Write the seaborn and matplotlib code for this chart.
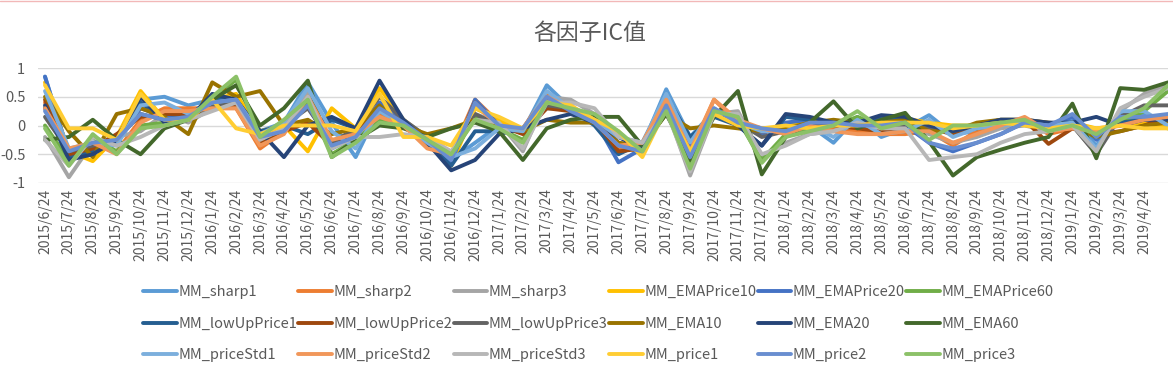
import numpy as np
import matplotlib
matplotlib.use("Agg")
import matplotlib.pyplot as plt
from matplotlib.lines import Line2D
import seaborn as sns
import pandas as pd

# dates on the category axis (last point has no visible label)
dates = ['2015/6/24', '2015/7/24', '2015/8/24', '2015/9/24', '2015/10/24', '2015/11/24',
         '2015/12/24', '2016/1/24', '2016/2/24', '2016/3/24', '2016/4/24', '2016/5/24',
         '2016/6/24', '2016/7/24', '2016/8/24', '2016/9/24', '2016/10/24', '2016/11/24',
         '2016/12/24', '2017/1/24', '2017/2/24', '2017/3/24', '2017/4/24', '2017/5/24',
         '2017/6/24', '2017/7/24', '2017/8/24', '2017/9/24', '2017/10/24', '2017/11/24',
         '2017/12/24', '2018/1/24', '2018/2/24', '2018/3/24', '2018/4/24', '2018/5/24',
         '2018/6/24', '2018/7/24', '2018/8/24', '2018/9/24', '2018/10/24', '2018/11/24',
         '2018/12/24', '2019/1/24', '2019/2/24', '2019/3/24', '2019/4/24', '2019/5/24']

sharp1 = [0.85, -0.5, -0.3, -0.3, 0.45, 0.5, 0.35, 0.45,
          0.5, -0.1, 0.05, 0.75, 0.05, -0.55, 0.3, 0.05,
          -0.3, -0.6, -0.3, 0.0, -0.1, 0.7, 0.3, 0.15,
          -0.2, -0.35, 0.63, -0.2, 0.25, 0.05, -0.1, -0.05,
          0.0, -0.3, 0.15, -0.2, -0.05, 0.18, -0.15, -0.1,
          0.05, 0.1, -0.05, 0.1, -0.35, 0.2, 0.2, -0.05]
sharp2 = [0.4, -0.45, -0.35, -0.45, 0.1, 0.3, 0.3, 0.3,
          0.3, -0.4, -0.1, 0.55, -0.3, -0.1, 0.2, 0.0,
          -0.35, -0.5, 0.45, 0.05, -0.05, 0.55, 0.35, 0.05,
          -0.4, -0.35, 0.5, -0.5, 0.45, 0.05, -0.05, -0.1,
          0.05, -0.05, -0.1, -0.15, -0.15, -0.1, -0.35, -0.1,
          0.05, 0.1, -0.15, -0.05, -0.15, 0.05, 0.05, 0.1]
sharp3 = [-0.2, -0.9, -0.3, -0.2, -0.1, 0.2, 0.05, 0.3,
          0.45, -0.3, 0.0, 0.6, -0.35, -0.1, 0.1, 0.1,
          -0.2, -0.55, 0.2, 0.05, -0.45, 0.5, 0.45, 0.2,
          -0.35, -0.35, 0.3, -0.87, 0.2, 0.25, -0.55, -0.3,
          -0.15, -0.1, 0.1, -0.05, -0.05, -0.15, -0.3, -0.2,
          -0.05, 0.0, -0.1, 0.0, -0.5, 0.25, 0.55, 0.72]
ema_price10 = [0.75, -0.45, -0.62, -0.2, 0.6, 0.1, 0.15, 0.45,
               0.55, -0.1, 0.0, -0.45, 0.3, -0.05, 0.65, 0.1,
               -0.25, -0.7, 0.3, 0.1, -0.1, 0.45, 0.3, 0.1,
               -0.3, -0.5, 0.35, -0.5, 0.25, 0.05, -0.1, 0.0,
               0.05, 0.05, 0.05, 0.1, 0.12, 0.05, 0.0, 0.0,
               0.05, 0.05, -0.05, 0.05, -0.05, 0.0, 0.05, -0.05]
ema_price20 = [0.85, -0.5, -0.35, -0.3, 0.3, 0.15, 0.2, 0.4,
               0.45, -0.2, -0.1, 0.4, -0.4, -0.2, 0.4, 0.05,
               -0.3, -0.65, 0.45, 0.0, -0.1, 0.45, 0.3, 0.1,
               -0.64, -0.4, 0.45, -0.35, 0.25, 0.1, -0.15, 0.05,
               0.1, 0.0, 0.0, 0.05, 0.0, -0.3, -0.45, -0.3,
               -0.15, 0.05, 0.0, 0.15, -0.25, 0.1, 0.15, 0.1]
ema_price60 = [0.0, -0.6, -0.2, -0.45, 0.0, 0.05, 0.1, 0.45,
               0.8, -0.15, 0.05, 0.4, -0.5, -0.25, 0.1, 0.05,
               -0.25, -0.55, 0.15, -0.05, -0.25, 0.4, 0.3, 0.15,
               -0.15, -0.45, 0.3, -0.7, 0.2, 0.1, -0.6, -0.15,
               -0.05, 0.0, 0.15, 0.0, 0.05, -0.1, -0.05, -0.05,
               0.05, 0.1, -0.1, 0.0, -0.2, 0.05, 0.25, 0.6]
low_up1 = [0.3, -0.55, -0.45, -0.2, 0.4, 0.1, 0.15, 0.5,
           0.4, -0.1, 0.0, -0.15, 0.1, -0.05, 0.25, 0.05,
           -0.3, -0.7, -0.1, -0.1, -0.05, 0.3, 0.3, 0.0,
           -0.5, -0.3, 0.5, -0.2, 0.15, 0.0, -0.35, 0.15,
           0.1, 0.05, 0.05, 0.15, 0.1, 0.0, -0.1, 0.0,
           0.1, 0.1, 0.0, 0.05, -0.1, 0.05, 0.1, 0.1]
low_up2 = [0.45, -0.5, -0.4, -0.15, 0.15, 0.2, 0.2, 0.35,
           0.35, -0.3, -0.1, 0.05, -0.35, -0.1, 0.3, 0.05,
           -0.35, -0.55, 0.4, 0.0, -0.15, 0.3, 0.25, 0.1,
           -0.45, -0.4, 0.3, -0.45, 0.2, 0.05, -0.1, -0.1,
           0.0, 0.0, -0.05, -0.1, -0.1, -0.05, -0.15, -0.05,
           0.05, 0.1, -0.32, -0.05, -0.15, -0.1, 0.0, 0.15]
low_up3 = [0.15, -0.45, -0.35, -0.25, 0.2, 0.1, 0.15, 0.35,
           0.4, -0.15, 0.0, 0.3, -0.3, -0.05, 0.5, 0.1,
           -0.2, -0.5, 0.2, 0.0, -0.1, 0.35, 0.3, 0.1,
           -0.3, -0.4, 0.35, -0.45, 0.2, 0.05, -0.2, -0.1,
           0.0, 0.05, 0.0, 0.0, 0.0, -0.05, -0.1, 0.0,
           0.05, 0.05, -0.05, 0.0, -0.5, 0.15, 0.35, 0.35]
ema10 = [0.5, -0.1, -0.55, 0.2, 0.3, 0.15, -0.15, 0.75,
         0.5, 0.6, 0.0, 0.1, -0.15, -0.05, 0.35, 0.0,
         -0.15, -0.05, 0.1, 0.0, -0.1, 0.1, 0.05, 0.05,
         -0.3, -0.35, 0.2, -0.05, 0.0, -0.05, -0.1, -0.05,
         0.05, 0.1, 0.05, 0.05, 0.1, -0.1, -0.1, 0.05,
         0.1, 0.1, 0.05, 0.0, -0.2, -0.1, 0.0, 0.05]
ema20 = [0.35, -0.6, -0.5, -0.25, 0.5, 0.05, 0.1, 0.55,
         0.45, -0.1, -0.55, 0.0, 0.15, -0.05, 0.78, 0.1,
         -0.3, -0.78, -0.6, -0.15, -0.05, 0.1, 0.2, 0.05,
         -0.2, -0.4, 0.4, -0.3, 0.2, 0.0, -0.35, 0.2,
         0.15, 0.05, 0.05, 0.18, 0.15, 0.0, -0.1, 0.0,
         0.1, 0.1, 0.05, 0.05, 0.15, 0.0, 0.1, 0.1]
ema60 = [-0.25, -0.2, 0.1, -0.25, -0.5, -0.05, 0.1, 0.45,
         0.7, 0.0, 0.3, 0.78, -0.55, -0.25, 0.0, -0.05,
         -0.2, -0.05, 0.05, -0.1, -0.6, -0.05, 0.1, 0.15,
         0.15, -0.35, 0.2, -0.6, 0.15, 0.6, -0.85, -0.2,
         0.05, 0.42, -0.05, 0.1, 0.22, -0.28, -0.87, -0.55,
         -0.42, -0.3, -0.2, 0.38, -0.57, 0.65, 0.62, 0.75]
price_std1 = [0.6, -0.4, -0.3, -0.35, 0.35, 0.4, 0.2, 0.4,
              0.45, -0.15, 0.05, 0.65, -0.1, -0.4, 0.25, 0.0,
              -0.3, -0.55, -0.4, -0.05, -0.1, 0.6, 0.3, 0.1,
              -0.2, -0.3, 0.55, -0.3, 0.3, 0.05, -0.1, -0.1,
              0.0, -0.2, 0.1, -0.15, -0.1, 0.1, -0.2, -0.05,
              0.0, 0.05, 0.0, 0.05, -0.4, 0.25, 0.25, 0.0]
price_std2 = [0.3, -0.4, -0.3, -0.5, 0.05, 0.25, 0.25, 0.3,
              0.3, -0.35, -0.15, 0.5, -0.25, -0.15, 0.15, 0.0,
              -0.4, -0.5, 0.35, 0.0, -0.05, 0.5, 0.3, 0.05,
              -0.35, -0.3, 0.45, -0.45, 0.45, 0.1, -0.05, -0.15,
              0.0, -0.1, -0.15, -0.15, -0.1, -0.1, -0.3, -0.15,
              0.0, 0.15, -0.1, -0.05, -0.1, 0.0, 0.1, 0.15]
price_std3 = [-0.25, -0.7, -0.2, -0.35, -0.2, 0.0, 0.1, 0.25,
              0.4, -0.25, -0.05, 0.5, -0.4, -0.2, -0.2, -0.15,
              -0.2, -0.45, 0.1, 0.05, -0.4, 0.4, 0.4, 0.3,
              -0.2, -0.3, 0.25, -0.8, 0.2, 0.2, -0.5, -0.35,
              -0.15, -0.1, 0.05, -0.05, -0.05, -0.6, -0.55, -0.5,
              -0.3, -0.15, -0.1, 0.0, -0.45, 0.3, 0.5, 0.65]
price1 = [0.7, -0.05, -0.05, -0.25, 0.55, 0.1, 0.1, 0.45,
          -0.05, -0.15, 0.0, 0.0, 0.0, -0.1, 0.55, -0.2,
          -0.2, -0.35, 0.3, 0.15, -0.05, 0.4, 0.35, 0.1,
          -0.1, -0.55, 0.3, -0.45, 0.2, 0.0, -0.05, 0.0,
          -0.05, 0.0, 0.0, 0.05, 0.05, 0.05, -0.05, 0.0,
          0.05, 0.0, -0.05, 0.0, -0.05, 0.0, -0.05, -0.05]
price2 = [0.25, -0.45, -0.3, -0.25, 0.2, 0.1, 0.15, 0.4,
          0.45, -0.2, -0.1, 0.35, -0.35, -0.2, 0.3, 0.05,
          -0.25, -0.6, 0.4, 0.0, -0.05, 0.5, 0.25, 0.05,
          -0.35, -0.45, 0.35, -0.55, 0.3, 0.05, -0.05, -0.1,
          0.05, 0.05, 0.0, 0.0, 0.05, -0.3, -0.4, -0.3,
          -0.15, 0.05, 0.0, 0.2, -0.2, 0.15, 0.15, 0.2]
price3 = [-0.05, -0.7, -0.15, -0.5, -0.05, 0.0, 0.1, 0.5,
          0.85, -0.2, 0.1, 0.45, -0.55, -0.3, 0.05, 0.0,
          -0.25, -0.5, 0.1, -0.05, -0.3, 0.4, 0.3, 0.2,
          -0.1, -0.45, 0.25, -0.75, 0.25, 0.15, -0.65, -0.2,
          -0.1, 0.0, 0.25, -0.05, 0.05, -0.25, 0.0, 0.0,
          0.05, 0.1, -0.1, 0.0, -0.15, 0.1, 0.3, 0.7]

names = ['MM_sharp1', 'MM_sharp2', 'MM_sharp3', 'MM_EMAPrice10', 'MM_EMAPrice20', 'MM_EMAPrice60',
         'MM_lowUpPrice1', 'MM_lowUpPrice2', 'MM_lowUpPrice3', 'MM_EMA10', 'MM_EMA20', 'MM_EMA60',
         'MM_priceStd1', 'MM_priceStd2', 'MM_priceStd3', 'MM_price1', 'MM_price2', 'MM_price3']
series = [sharp1, sharp2, sharp3, ema_price10, ema_price20, ema_price60,
          low_up1, low_up2, low_up3, ema10, ema20, ema60,
          price_std1, price_std2, price_std3, price1, price2, price3]
colors = ['#5B9BD5', '#ED7D31', '#A5A5A5', '#FFC000', '#4472C4', '#70AD47',
          '#255E91', '#9E480E', '#636363', '#997300', '#264478', '#43682B',
          '#7CAFDD', '#F1975A', '#B7B7B7', '#FFCD33', '#698ED0', '#8CC168']

# long format for seaborn
rows = []
for name, vals in zip(names, series):
    for i, v in enumerate(vals):
        rows.append((name, i, v))
df = pd.DataFrame(rows, columns=['factor', 'idx', 'ic'])

sns.set_theme(style='white')
plt.rcParams['font.family'] = ['Noto Sans CJK SC', 'DejaVu Sans']

W, H = 1173, 366
fig = plt.figure(figsize=(W / 100, H / 100), dpi=100)
step = 1123 / 47
x_left = 45 - 0.3 * step
ax = fig.add_axes([x_left / W, 1 - 183 / H, (1168 - x_left) / W, (183 - 68) / H])

sns.lineplot(data=df, x='idx', y='ic', hue='factor', hue_order=names,
             palette=colors, linewidth=2.8, estimator=None, ax=ax)

ax.set_xlim(-0.3, 47)
ax.set_ylim(-1, 1)
ax.set_yticks([-1, -0.5, 0, 0.5, 1])
ax.set_yticklabels(['-1', '-0.5', '0', '0.5', '1'])
ax.set_xticks(range(47))
ax.set_xticklabels(dates[:47], rotation=90)
ax.tick_params(axis='x', labelsize=10, colors='#595959', pad=4, length=0)
ax.tick_params(axis='y', labelsize=10.5, colors='#595959', pad=9, length=0)
ax.set_xlabel('')
ax.set_ylabel('')
ax.grid(axis='y', color='#D9D9D9', linewidth=1)
ax.set_axisbelow(True)
for s in ax.spines.values():
    s.set_visible(False)

fig.text(0.503, 1 - 33 / H, '各因子IC值', ha='center', va='center',
         fontsize=16.5, color='#595959')

handles, labels = ax.get_legend_handles_labels()
ax.get_legend().remove()
# matplotlib fills the legend column by column; reorder so rows read like the original
order = []
for c in range(6):
    for r in range(3):
        order.append(r * 6 + c)
fig.legend([handles[k] for k in order], [labels[k] for k in order],
           ncol=6, loc='upper left', bbox_to_anchor=(130 / W, 1 - 272 / H),
           frameon=False, fontsize=10.5, handlelength=2.3, handletextpad=0.1,
           columnspacing=0.1, labelspacing=1.2, labelcolor='#595959')

fig.add_artist(Line2D([0, 1], [0.998, 0.998], color='#F2B8B8', linewidth=1))

fig.savefig('out.png', dpi=100)
